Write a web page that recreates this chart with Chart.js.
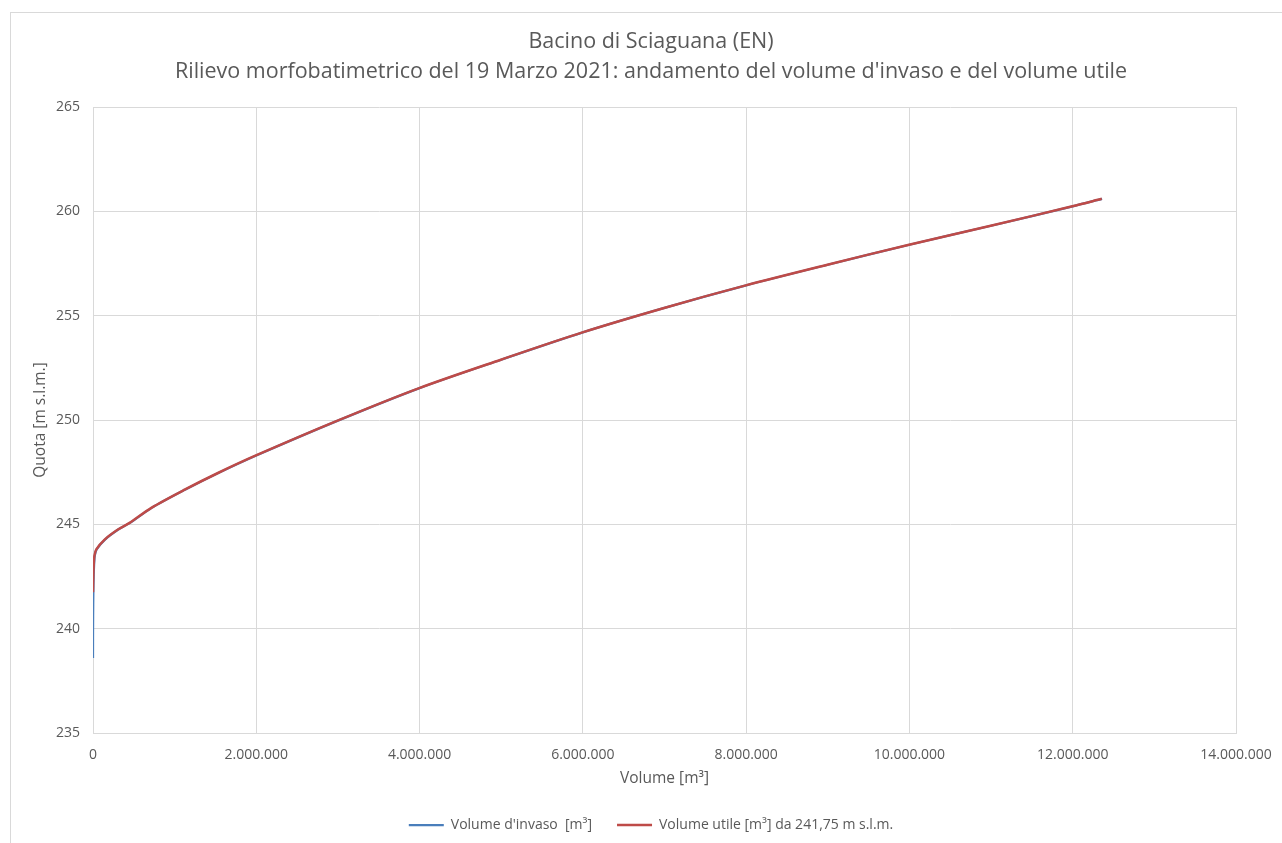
<!DOCTYPE html>
<html lang="it">
<head>
<meta charset="utf-8">
<title>Bacino di Sciaguana (EN)</title>
<script src="https://cdn.jsdelivr.net/npm/chart.js@4.4.1/dist/chart.umd.min.js"></script>
<style>
    html, body { margin: 0; padding: 0; background: #fff; overflow: hidden; }
    #frame { position: absolute; left: 10px; top: 12px; width: 1400px; height: 1000px;
             border-left: 1px solid #d9d9d9; border-top: 1px solid #d9d9d9; }
    #chart { position: absolute; left: 0; top: 0; }
</style>
</head>
<body>
<div id="frame"></div>
<canvas id="chart" width="1282" height="843"></canvas>

<script>
// values
var titleLines = ['Bacino di Sciaguana (EN)',
    "Rilievo morfobatimetrico del 19 Marzo 2021: andamento del volume d'invaso e del volume utile"];

var invasoVolume = [0, 300, 1500, 4500, 9000, 14000, 22000, 45000, 147000, 310000, 453000, 719000,
    1127000, 1535000, 2000000, 3000000, 4000000, 5000000, 6000000, 7000000, 8000000, 9000000,
    10000000, 11000000, 12000000, 12360000];
var invasoQuota = [238.6, 239.5, 240.6, 241.75, 242.6, 243.1, 243.5, 243.8, 244.27, 244.75, 245.07, 245.79,
    246.66, 247.46, 248.3, 249.97, 251.53, 252.89, 254.2, 255.37, 256.45, 257.44,
    258.4, 259.31, 260.24, 260.6];

var utileVolume = [0, 4500, 9500, 17500, 40500, 142500, 305500, 448500, 714500,
    1122500, 1530500, 1995500, 2995500, 3995500, 4995500, 5995500, 6995500, 7995500, 8995500,
    9995500, 10995500, 11995500, 12355500];
var utileQuota = [241.75, 242.6, 243.1, 243.5, 243.8, 244.27, 244.75, 245.07, 245.79,
    246.66, 247.46, 248.3, 249.97, 251.53, 252.89, 254.2, 255.37, 256.45, 257.44,
    258.4, 259.31, 260.24, 260.6];

var labelInvaso = "Volume d'invaso  [m³]";
var labelUtile = 'Volume utile [m³] da 241,75 m s.l.m.';

var textColor = '#595959';
var gridColor = '#d9d9d9';
var fontName = "'Open Sans', sans-serif";

function toPoints(xs, ys) {
    var pts = [];
    for (var i = 0; i < xs.length; i++) {
        pts.push({x: xs[i], y: ys[i]});
    }
    return pts;
}

function dotted(v) {
    return String(v).replace(/\B(?=(\d{3})+(?!\d))/g, '.');
}

// title and legend sit a bit right of the canvas centre in the original
var shiftBlocks = {
    id: 'shiftBlocks',
    afterLayout: function(chart) {
        if (chart.titleBlock) chart.titleBlock.left += 44;
        if (chart.legend) chart.legend.left += 44;
    }
};

var ctx = document.getElementById('chart').getContext('2d');
var myChart = new Chart(ctx, {
    type: 'line',
    data: {
        datasets: [{
            label: labelInvaso,
            data: toPoints(invasoVolume, invasoQuota),
            borderColor: '#4a7ebb',
            backgroundColor: '#4a7ebb',
            borderWidth: 2.25,
            pointRadius: 0,
            tension: 0.3,
            order: 2
        }, {
            label: labelUtile,
            data: toPoints(utileVolume, utileQuota),
            borderColor: '#be4b48',
            backgroundColor: '#be4b48',
            borderWidth: 2.5,
            pointRadius: 0,
            tension: 0.3,
            order: 1   // red drawn over blue
        }]
    },
    plugins: [shiftBlocks],
    options: {
        responsive: false,
        animation: false,
        layout: { padding: { left: 22, right: 46, top: 12, bottom: 1 } },
        plugins: {
            title: {
                display: true,
                text: titleLines,
                color: textColor,
                font: { family: fontName, size: 21.5, weight: 'normal', lineHeight: '30px' },
                padding: { top: 15, bottom: 20 }
            },
            legend: {
                position: 'bottom',
                labels: {
                    color: textColor,
                    font: { family: fontName, size: 14 },
                    usePointStyle: true,
                    pointStyle: 'line',
                    pointStyleWidth: 35,
                    padding: 25,
                    sort: function(a, b) { return a.datasetIndex - b.datasetIndex; }
                }
            },
            tooltip: { enabled: false }
        },
        scales: {
            x: {
                type: 'linear',
                min: 0,
                max: 14000000,
                grid: { color: gridColor, drawTicks: false },
                border: { color: gridColor },
                ticks: {
                    stepSize: 2000000,
                    color: textColor,
                    padding: 14,
                    font: { family: fontName, size: 14 },
                    maxRotation: 0,
                    callback: function(v) { return dotted(v); }
                },
                title: {
                    display: true,
                    text: 'Volume [m³]',
                    color: textColor,
                    font: { family: fontName, size: 15.5 },
                    padding: { top: 0, bottom: 5.5 }
                },
                afterFit: function(scale) {
                    scale.height = 60;
                    scale.paddingLeft = 0;
                    scale.paddingRight = 0;
                }
            },
            y: {
                min: 235,
                max: 265,
                grid: { color: gridColor, drawTicks: false },
                border: { color: gridColor },
                ticks: {
                    stepSize: 5,
                    color: textColor,
                    padding: 13,
                    font: { family: fontName, size: 14 }
                },
                title: {
                    display: true,
                    text: 'Quota [m s.l.m.]',
                    color: textColor,
                    font: { family: fontName, size: 15.5 },
                    padding: { top: 9, bottom: 0 }
                },
                afterFit: function(scale) {
                    scale.width = 71;
                    scale.paddingTop = 0;
                    scale.paddingBottom = 0;
                }
            }
        }
    }
});
</script>
</body>
</html>
